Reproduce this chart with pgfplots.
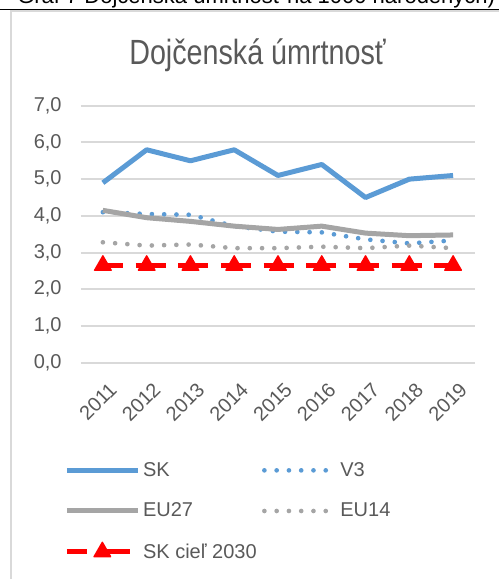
\documentclass[border=0pt]{standalone}
\usepackage{fontspec}
\setmainfont{Liberation Sans}
\newfontfamily\titlefont[FakeStretch=0.82]{Liberation Sans}
\usepackage{pgfplots}
\pgfplotsset{compat=1.18}
\definecolor{skblue}{HTML}{5B9BD5}
\definecolor{eugray}{HTML}{A5A5A5}
\definecolor{gridgray}{HTML}{D9D9D9}
\definecolor{txtgray}{HTML}{595959}
\begin{document}
\begin{tikzpicture}
\path[use as bounding box] (0,0) rectangle (374.25pt,-434.25pt);
\clip (0,0) rectangle (374.25pt,-434.25pt);
\begin{scope}[x=0.75pt,y=-0.75pt]
  \node[anchor=base west, inner sep=0pt, font=\fontsize{16.5pt}{19pt}\selectfont] at (17,3) {Graf 7 Dojčenská úmrtnosť na 1000 narodených)};
  \draw[gridgray, line width=1.5pt] (11,11) -- (499,11);
  \draw[gridgray, line width=1.5pt] (11,10) -- (11,579);
  \draw[black, line width=1.2pt] (0,9.3) -- (499,9.3);
  \node[anchor=base, inner sep=0pt, text=txtgray, font=\titlefont\fontsize{26.25pt}{30pt}\selectfont] at (257.5,64.3) {Dojčenská úmrtnosť};
\end{scope}
\begin{axis}[
  at={(60.75pt,-272.03pt)}, anchor=south west,
  scale only axis, width=295.5pt, height=192.75pt,
  xmin=2010.5, xmax=2019.5, ymin=0, ymax=7,
  axis line style={draw=none},
  major tick length=0pt,
  ymajorgrids, grid style={gridgray, line width=1.5pt},
  ytick={0,1,...,7},
  xtick={2011,...,2019},
  xticklabels={2011,2012,2013,2014,2015,2016,2017,2018,2019},
  tick label style={text=txtgray, font=\fontsize{15pt}{18pt}\selectfont},
  /pgf/number format/fixed,
  /pgf/number format/fixed zerofill,
  /pgf/number format/precision=1,
  /pgf/number format/use comma,
  /pgf/number format/assume math mode=true,
  yticklabel style={xshift=-11pt},
  xticklabel style={rotate=45, anchor=east, yshift=-18pt, xshift=-3.5pt},
  clip=false,
  legend columns=2,
  legend cell align=left,
  legend style={draw=none, fill=none, at={(-0.053,-0.366)}, anchor=north west,
    font=\fontsize{15pt}{18pt}\selectfont, text=txtgray,
    row sep=14.5pt,
    /tikz/every even column/.append style={column sep=2pt}},
  legend image code/.code={\draw[mark repeat=2,mark phase=2,#1] plot coordinates {(0pt,0pt) (26.6pt,0pt) (53.25pt,0pt)};},
]
\addplot[skblue, line width=3.75pt, line join=round] coordinates {(2011,4.9)(2012,5.8)(2013,5.5)(2014,5.8)(2015,5.1)(2016,5.4)(2017,4.5)(2018,5.0)(2019,5.1)};
\addlegendentry{SK}
\addplot[skblue, line width=3.5pt, line cap=round, dash pattern=on 0pt off 9.2pt] coordinates {(2011,4.1)(2012,4.05)(2013,4.03)(2014,3.72)(2015,3.57)(2016,3.55)(2017,3.36)(2018,3.25)(2019,3.33)};
\addlegendentry{V3}
\addplot[eugray, line width=3.75pt, line join=round] coordinates {(2011,4.15)(2012,3.95)(2013,3.85)(2014,3.72)(2015,3.63)(2016,3.72)(2017,3.53)(2018,3.46)(2019,3.48)};
\addlegendentry{EU27}
\addplot[eugray, line width=3.5pt, line cap=round, dash pattern=on 0pt off 9.2pt] coordinates {(2011,3.28)(2012,3.19)(2013,3.22)(2014,3.12)(2015,3.12)(2016,3.16)(2017,3.12)(2018,3.19)(2019,3.12)};
\addlegendentry{EU14}
\addplot[red, line width=3.75pt, dash pattern=on 22.5pt off 9.5pt, dash phase=7.5pt,
  mark=triangle*, mark size=7.2pt, mark options={solid, fill=red, draw=red, line width=1pt, line join=round}] coordinates {(2011,2.65)(2012,2.65)(2013,2.65)(2014,2.65)(2015,2.65)(2016,2.65)(2017,2.65)(2018,2.65)(2019,2.65)};
\addlegendentry{SK cieľ 2030}
\end{axis}
\end{tikzpicture}
\end{document}
